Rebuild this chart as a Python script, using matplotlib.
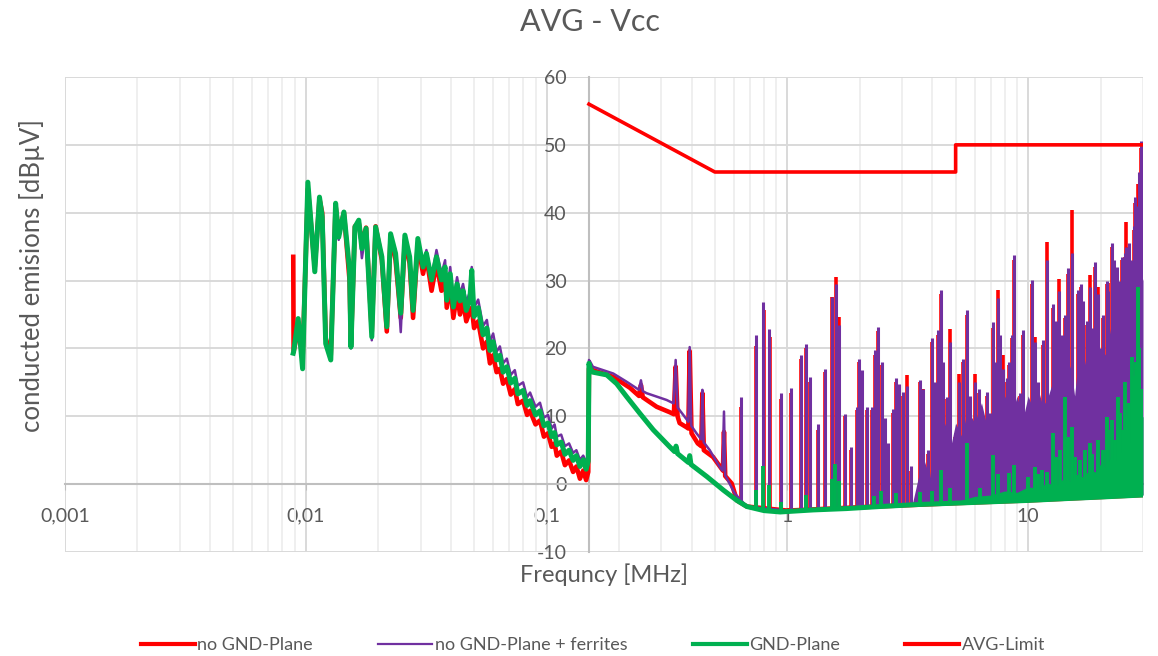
import numpy as np
import matplotlib
matplotlib.use('Agg')
import matplotlib.pyplot as plt
from matplotlib.ticker import FixedLocator, FuncFormatter, LogLocator, NullFormatter
from matplotlib.lines import Line2D

plt.rcParams['font.family'] = ['Lato', 'DejaVu Sans']
plt.rcParams['axes.unicode_minus'] = False

# ---------------- data ----------------
title = "AVG - Vcc"
x_label = "Frequncy [MHz]"
y_label = "conducted emisions [dBµV]"
series_names = ["no GND-Plane", "no GND-Plane + ferrites", "GND-Plane", "AVG-Limit"]

x_ticks = [0.001, 0.01, 0.1, 1, 10]
x_tick_labels = ["0,001", "0,01", "0,1", "1", "10"]
y_ticks = [-10, 0, 10, 20, 30, 40, 50, 60]

# low-frequency sweep (9 kHz - 150 kHz), shared frequency list [MHz]
f_low = [0.00887, 0.00890, 0.0093, 0.0097, 0.0102, 0.0109, 0.0114, 0.0117, 0.0121, 0.0127,
         0.0133, 0.0137, 0.0144, 0.0152, 0.0154, 0.0160, 0.0166, 0.0171, 0.0178, 0.0188,
         0.0195, 0.0207, 0.0217, 0.0225, 0.0236, 0.0248, 0.0258, 0.0270, 0.0279, 0.0292,
         0.0307, 0.0317, 0.0333, 0.0349, 0.0366, 0.0379, 0.0385, 0.0398, 0.0410, 0.0425,
         0.0437, 0.0450, 0.0464, 0.0480, 0.0489, 0.0500, 0.0520, 0.0545, 0.0565, 0.0582,
         0.0600, 0.0620, 0.0640, 0.0660, 0.0684, 0.0710, 0.0738, 0.0760, 0.0799, 0.0830,
         0.0854, 0.0900, 0.0939, 0.0975, 0.1014, 0.1050, 0.1080, 0.1103, 0.1150, 0.1192,
         0.1240, 0.1289, 0.1330, 0.1376, 0.1420, 0.1460, 0.1490]
green_low = [19.3, 19.5, 24.4, 17.0, 44.5, 31.3, 42.3, 39.4, 20.7, 18.3,
             41.4, 36.4, 40.1, 31.5, 20.2, 37.9, 38.9, 34.7, 37.7, 21.7,
             37.9, 33.5, 23.2, 36.9, 34.0, 25.2, 36.7, 33.5, 25.6, 36.2,
             32.0, 34.0, 30.1, 33.5, 30.1, 32.0, 27.1, 31.0, 26.1, 29.5,
             27.0, 28.5, 25.6, 27.1, 31.5, 24.7, 26.0, 22.0, 23.0, 19.7,
             21.0, 18.3, 19.0, 16.5, 17.3, 14.9, 15.6, 13.3, 13.8, 11.6,
             12.3, 10.2, 10.8, 8.6, 9.0, 7.0, 7.6, 5.8, 6.2, 4.4,
             5.0, 3.5, 4.2, 2.6, 3.6, 2.2, 3.4]
red_low = [33.5, 19.5, 23.0, 18.5, 43.5, 32.0, 42.0, 40.0, 21.5, 19.0,
           41.0, 37.0, 40.0, 30.0, 20.5, 38.0, 38.5, 35.5, 37.8, 22.5,
           38.0, 33.0, 22.5, 36.5, 33.0, 24.5, 36.0, 32.5, 24.5, 35.5,
           31.0, 33.5, 28.5, 32.5, 28.5, 31.0, 26.0, 29.5, 24.5, 28.0,
           25.0, 27.0, 24.0, 25.5, 26.0, 23.0, 24.0, 20.0, 21.0, 17.8,
           19.0, 16.5, 17.0, 14.8, 15.5, 13.2, 14.0, 11.8, 12.3, 10.2,
           10.8, 8.8, 9.4, 7.0, 7.5, 5.5, 6.0, 4.2, 4.8, 2.8,
           3.5, 1.8, 2.6, 0.8, 2.0, 0.6, 1.8]
purple_low = [20.0, 19.5, 24.0, 17.5, 44.0, 31.5, 42.0, 39.0, 20.5, 18.5,
              41.0, 36.0, 39.5, 31.0, 20.0, 37.5, 38.5, 33.3, 37.5, 21.2,
              37.5, 34.0, 24.0, 36.5, 34.5, 22.4, 36.0, 34.0, 26.0, 36.0,
              32.5, 34.5, 30.5, 34.5, 31.0, 33.0, 28.0, 32.0, 27.0, 30.5,
              28.0, 29.5, 26.8, 28.3, 32.0, 26.0, 27.2, 23.3, 24.2, 21.0,
              22.2, 19.5, 20.3, 17.8, 18.5, 16.1, 16.8, 14.5, 15.0, 12.8,
              13.5, 11.4, 12.0, 9.8, 10.2, 8.2, 8.8, 7.0, 7.3, 5.6,
              6.0, 4.6, 5.0, 3.6, 4.2, 3.3, 3.8]

# high-frequency sweep (150 kHz - 30 MHz): smooth part + floor
red_hi_f = [0.1500, 0.1520, 0.1557, 0.1893, 0.2219, 0.2420, 0.2466, 0.2510, 0.2866, 0.3247,
            0.3380, 0.3437, 0.3500, 0.3570, 0.3808, 0.3880, 0.3930, 0.4000, 0.4246, 0.4390,
            0.4438, 0.4500, 0.4915, 0.5400, 0.5456, 0.5520, 0.5874, 0.6174, 0.6793, 1.0,
            2.0, 5.0, 10.0, 30.0]
red_hi_v = [17.0, 17.5, 16.8, 15.8, 14.2, 13.0, 14.6, 12.8, 11.4, 10.6,
            10.3, 17.3, 10.0, 9.0, 8.4, 8.2, 19.6, 7.5, 6.0, 5.6,
            13.4, 5.0, 4.0, 2.0, 7.7, 1.2, 0.1, -2.4, -3.3, -3.9,
            -3.4, -2.8, -2.4, -1.6]
purple_hi_f = [0.1500, 0.1520, 0.1557, 0.1893, 0.2149, 0.2420, 0.2466, 0.2510, 0.2605, 0.3154,
               0.3370, 0.3437, 0.3500, 0.3808, 0.3880, 0.3930, 0.3990, 0.4194, 0.4390, 0.4438,
               0.4490, 0.4763, 0.5244, 0.5380, 0.5456, 0.5520, 0.6054, 0.6793, 1.0, 2.0,
               5.0, 10.0, 30.0]
purple_hi_v = [18.3, 18.0, 17.3, 16.3, 15.1, 13.9, 15.3, 13.7, 13.4, 12.4,
               11.9, 18.3, 11.3, 9.6, 9.2, 20.2, 8.6, 7.5, 6.6, 13.9,
               6.2, 5.0, 2.5, 2.0, 10.7, 1.3, -1.4, -3.3, -3.9, -3.4,
               -2.8, -2.4, -1.6]
green_hi_f = [0.1500, 0.1520, 0.1557, 0.1778, 0.1955, 0.2149, 0.2444, 0.2775, 0.3247, 0.3400,
              0.3450, 0.3500, 0.3880, 0.3930, 0.3980, 0.4637, 0.5432, 0.6174, 0.6793, 0.8000,
              0.9340, 1.279, 1.760, 2.420, 3.5, 5.0, 7.0, 10.0, 15.0, 20.0, 30.0]
green_hi_v = [17.8, 17.0, 16.5, 16.1, 14.8, 12.9, 10.4, 8.0, 5.5, 4.8,
              5.6, 4.5, 3.2, 4.2, 2.9, 1.1, -0.9, -2.4, -3.3, -3.9,
              -4.1, -3.8, -3.6, -3.3, -3.0, -2.8, -2.6, -2.4, -2.1, -1.9, -1.6]

# emission peaks (frequency [MHz], level [dBuV])
purple_pk_f = [0.642, 0.741, 0.794, 0.841, 0.941, 1.035, 1.139, 1.191, 1.241, 1.340,
               1.437, 1.528, 1.587, 1.638, 1.735, 1.832, 1.940, 1.989, 2.035, 2.135,
               2.239, 2.311, 2.385, 2.465, 2.543, 2.624, 2.737, 2.825, 2.915, 3.012,
               3.129, 3.251, 3.554, 3.650, 3.847, 3.975, 4.102, 4.234, 4.345, 4.441,
               4.588, 4.735, 4.966, 5.175, 5.377, 5.555, 5.733, 6.014, 6.266, 6.511,
               6.727, 6.943, 7.166, 7.353, 7.517, 7.637, 7.882, 8.142, 8.347, 8.541,
               8.730, 9.246, 9.541, 9.857, 10.34, 10.67, 11.01, 11.49, 11.94, 12.32,
               12.72, 13.10, 13.47, 13.78, 14.22, 14.68, 15.16, 15.64, 16.15, 16.54,
               16.94, 17.50, 18.06, 18.50, 18.95, 19.55, 20.10, 20.51, 21.18, 21.51,
               22.23, 22.80, 23.31, 24.06, 24.60, 25.23, 25.48, 26.20, 26.91, 27.40,
               27.77, 28.49, 29.00, 29.40, 29.70, 29.97]
purple_pk_v = [12.9, 22.0, 26.9, 22.9, 13.4, 14.1, 19.0, 20.7, 15.8, 8.9,
               17.0, 27.6, 29.5, 23.5, 10.4, 5.5, 11.4, 18.5, 16.8, 11.4,
               11.4, 19.7, 23.2, 18.0, 9.7, 6.0, 11.1, 15.6, 14.8, 13.6,
               14.5, 2.6, 15.3, 14.0, 5.0, 21.5, 15.0, 22.7, 28.6, 18.0,
               12.9, 21.0, 7.5, 15.0, 18.5, 25.6, 13.0, 15.0, 14.0, 9.0,
               13.6, 10.5, 23.9, 18.0, 27.5, 22.0, 17.0, 15.6, 18.0, 22.0,
               33.7, 13.4, 22.7, 10.0, 30.1, 21.0, 15.0, 21.2, 33.0, 12.0,
               26.6, 24.0, 28.5, 22.0, 25.0, 31.8, 34.0, 12.5, 28.6, 29.5,
               27.0, 24.0, 29.0, 23.0, 32.8, 28.0, 20.0, 25.0, 30.0, 28.5,
               35.5, 33.0, 32.0, 30.0, 33.5, 34.0, 35.0, 35.5, 33.0, 38.0,
               42.3, 41.0, 46.0, 50.6, 44.0, 36.0]
red_pk_f = [0.642, 0.743, 0.797, 0.844, 0.944, 1.037, 1.142, 1.194, 1.244, 1.343,
            1.440, 1.532, 1.590, 1.642, 1.738, 1.835, 1.944, 1.993, 2.040, 2.140,
            2.244, 2.316, 2.390, 2.470, 2.548, 2.630, 2.742, 2.830, 2.921, 3.018,
            3.135, 3.256, 3.560, 3.655, 3.852, 3.982, 4.108, 4.242, 4.352, 4.448,
            4.596, 4.743, 4.974, 5.183, 5.385, 5.564, 5.742, 6.024, 6.276, 6.521,
            6.738, 6.954, 7.178, 7.365, 7.530, 7.650, 7.895, 8.155, 8.360, 8.555,
            8.745, 9.260, 9.556, 9.873, 10.36, 10.69, 11.03, 11.51, 11.96, 12.34,
            12.74, 13.12, 13.49, 13.80, 14.24, 14.70, 15.19, 15.67, 16.18, 16.57,
            16.97, 17.53, 18.09, 18.53, 18.98, 19.58, 20.13, 20.54, 21.21, 21.54,
            22.26, 22.84, 23.35, 24.10, 24.64, 25.27, 25.52, 26.24, 26.95, 27.45,
            27.81, 28.53, 29.04, 29.44, 29.74, 29.97]
red_pk_v = [11.4, 20.3, 25.6, 21.7, 12.5, 13.5, 18.5, 20.0, 15.0, 8.0,
            16.5, 27.6, 30.5, 24.7, 10.0, 5.0, 11.0, 18.0, 16.0, 11.0,
            11.0, 19.0, 22.5, 17.5, 9.5, 5.5, 10.5, 15.0, 14.5, 13.0,
            16.1, 2.0, 15.0, 14.0, 4.5, 21.0, 14.5, 22.0, 28.0, 17.5,
            12.5, 22.9, 7.0, 16.3, 18.0, 25.0, 12.5, 16.3, 13.5, 8.5,
            13.0, 10.0, 23.0, 17.5, 28.6, 21.5, 19.0, 15.0, 17.5, 21.5,
            33.0, 13.0, 22.0, 9.5, 29.5, 21.7, 14.5, 20.5, 35.7, 11.5,
            26.0, 23.5, 30.3, 21.5, 24.5, 31.0, 40.4, 12.0, 28.0, 29.0,
            26.5, 23.5, 30.8, 22.5, 32.0, 29.0, 19.5, 24.5, 29.5, 29.6,
            35.0, 32.5, 31.5, 29.5, 33.0, 33.5, 38.7, 35.0, 32.5, 37.5,
            41.5, 44.3, 45.0, 49.5, 43.5, 35.5]
green_pk_f = [0.605, 0.741, 0.794, 0.841, 0.941, 1.19, 1.528, 1.575, 1.638, 2.30,
              2.45, 2.83, 3.55, 3.975, 4.33, 4.74, 5.555, 6.30, 7.12, 7.50,
              8.35, 8.73, 10.0, 10.7, 11.0, 11.4, 12.0, 12.7, 13.0, 13.5,
              14.2, 14.7, 15.16, 15.7, 16.5, 17.3, 18.06, 18.5, 19.5, 20.5,
              21.18, 21.5, 22.2, 23.0, 23.7, 24.1, 24.7, 25.2, 25.8, 26.3,
              26.9, 27.5, 28.0, 28.65, 29.0, 29.5, 30.0]
green_pk_v = [-1.9, -0.9, 2.6, -0.2, -2.6, -1.6, 0.8, 3.0, 0.5, -1.8,
              -1.0, -1.3, -1.2, -1.0, 2.1, -0.5, 6.0, -0.5, 4.3, 1.5,
              1.6, 2.8, 1.0, 2.5, 1.5, 2.1, 1.8, 7.5, 4.0, 5.0,
              12.9, 7.0, 8.4, 4.0, 3.5, 5.0, 6.0, 4.5, 6.5, 5.0,
              9.9, 8.0, 9.5, 6.5, 12.9, 10.5, 8.0, 15.1, 10.0, 12.0,
              18.8, 16.0, 18.0, 29.1, 20.0, 12.0, 14.0]

# dense body of the spectra (level below which the trace is solid)
purple_body_f = [3.3, 3.5, 3.7, 3.9, 4.1, 4.3, 4.5, 4.8, 5.0, 5.3,
                 5.6, 6.0, 6.4, 6.8, 7.2, 7.6, 8.0, 8.5, 9.0, 9.5,
                 10.0, 10.5, 11.0, 11.5, 12.0, 12.5, 13.0, 13.5, 14.0, 14.5,
                 15.0, 15.6, 16.2, 17.0, 18.0, 19.0, 20.0, 21.0, 22.0, 23.0,
                 24.0, 25.0, 26.0, 27.0, 28.0, 29.0, 30.0]
purple_body_top = [-3.0, 1.0, 3.5, 1.0, 7.0, 4.0, 9.0, 6.0, 9.0, 7.0,
                   11.0, 9.0, 12.0, 8.0, 12.0, 10.0, 13.0, 10.0, 13.0, 9.5,
                   13.0, 11.0, 14.0, 11.5, 12.5, 14.5, 16.0, 14.5, 18.0, 16.0,
                   17.5, 13.0, 19.0, 17.0, 21.0, 18.0, 20.0, 19.0, 23.0, 21.0,
                   24.0, 23.0, 26.0, 27.0, 30.0, 32.0, 30.0]
green_body_f = [5.0, 6.0, 7.0, 8.0, 9.0, 10.0, 11.0, 12.0, 13.0, 14.0,
                15.0, 16.0, 17.0, 18.0, 19.0, 20.0, 21.0, 22.0, 23.0, 24.0,
                25.0, 26.0, 27.0, 28.0, 29.0, 30.0]
green_body_top = [-2.6, -1.8, -1.6, -1.0, -1.2, -0.4, -0.6, 0.2, -0.2, 0.8,
                  0.4, 1.5, 1.0, 2.2, 1.8, 3.0, 2.5, 4.0, 3.5, 5.0,
                  4.5, 6.5, 6.0, 8.0, 9.0, 10.0]

# limit line
limit_f = [0.15, 0.5, 5.0, 5.0, 30.0]
limit_v = [56, 46, 46, 50, 50]

# ---------------- styling ----------------
RED = '#ff0000'
PURPLE = '#7030a0'
GREEN = '#00b050'
TXT = '#595959'

fig = plt.figure(figsize=(11.58, 6.56), dpi=100)
ax = fig.add_axes([65 / 1158, 1 - 552 / 656, (1143 - 65) / 1158, (552 - 77) / 656])
ax.set_xscale('log')
ax.set_xlim(0.001, 30)
ax.set_ylim(-10, 60)


def floor_at(freqs):
    return np.interp(np.log10(freqs), np.log10(green_hi_f), green_hi_v)


# red: no GND-Plane
ax.plot(f_low + red_hi_f, red_low + red_hi_v, color=RED, lw=3.3, zorder=3)
ax.vlines(red_pk_f, floor_at(red_pk_f), red_pk_v, color=RED, lw=2.6, zorder=3)

# purple: no GND-Plane + ferrites
ax.plot(f_low + purple_hi_f, purple_low + purple_hi_v, color=PURPLE, lw=1.8, zorder=4)
ax.fill_between(purple_body_f, floor_at(purple_body_f), purple_body_top,
                color=PURPLE, lw=0, zorder=4)
ax.vlines(purple_pk_f, floor_at(purple_pk_f), purple_pk_v, color=PURPLE, lw=2.2, zorder=4)

# green: GND-Plane
ax.plot(f_low + green_hi_f, green_low + green_hi_v, color=GREEN, lw=3.6, zorder=5)
ax.fill_between(green_body_f, floor_at(green_body_f), green_body_top,
                color=GREEN, lw=0, zorder=5)
ax.vlines(green_pk_f, floor_at(green_pk_f), green_pk_v, color=GREEN, lw=2.8, zorder=5)

# limit
ax.plot(limit_f, limit_v, color=RED, lw=2.6, zorder=6)

# axes / grid
ax.xaxis.set_major_locator(FixedLocator(x_ticks))
ax.xaxis.set_major_formatter(FuncFormatter(
    lambda v, p: x_tick_labels[x_ticks.index(min(x_ticks, key=lambda t: abs(np.log10(t) - np.log10(v))))]))
ax.xaxis.set_minor_locator(LogLocator(base=10, subs=np.arange(2, 10), numticks=20))
ax.xaxis.set_minor_formatter(NullFormatter())
ax.yaxis.set_major_locator(FixedLocator(y_ticks))
ax.yaxis.set_major_formatter(FuncFormatter(lambda v, p: f"{int(round(v))}"))

ax.set_axisbelow(True)
ax.grid(which='major', axis='y', color='#d9d9d9', lw=1.4)
ax.grid(which='major', axis='x', color='#d9d9d9', lw=1.4)
ax.grid(which='minor', axis='x', color='#efefef', lw=1.4)

for s in ['top', 'right']:
    ax.spines[s].set_visible(False)
ax.spines['left'].set_position(('data', 0.15))
ax.spines['bottom'].set_position(('data', 0))
for s in ['left', 'bottom']:
    ax.spines[s].set_color('#bfbfbf')
    ax.spines[s].set_linewidth(1.5)
    ax.spines[s].set_zorder(2)

ax.tick_params(axis='x', which='major', length=4, color='#bfbfbf', pad=13,
               labelsize=14, labelcolor=TXT)
ax.tick_params(axis='x', which='minor', length=0)
ax.tick_params(axis='y', which='major', length=0, pad=16, labelsize=14, labelcolor=TXT)

# texts
fig.text(590 / 1158, 1 - 22 / 656, title, ha='center', va='center', fontsize=22, color=TXT)
fig.text(32 / 1158, 1 - 276 / 656, y_label, ha='center', va='center', rotation=90,
         fontsize=18.5, color=TXT)
fig.text(604 / 1158, 1 - 575 / 656, x_label, ha='center', va='center', fontsize=17, color=TXT)

handles = [Line2D([], [], color=RED, lw=3.0),
           Line2D([], [], color=PURPLE, lw=1.6),
           Line2D([], [], color=GREEN, lw=3.0),
           Line2D([], [], color=RED, lw=3.0)]
fig.legend(handles, series_names, loc='center', bbox_to_anchor=(593 / 1158, 1 - 645 / 656),
           ncol=4, frameon=False, fontsize=13, handlelength=3.0, handletextpad=0.15,
           columnspacing=3.6, labelcolor=TXT)

fig.savefig('out.png', dpi=100)
